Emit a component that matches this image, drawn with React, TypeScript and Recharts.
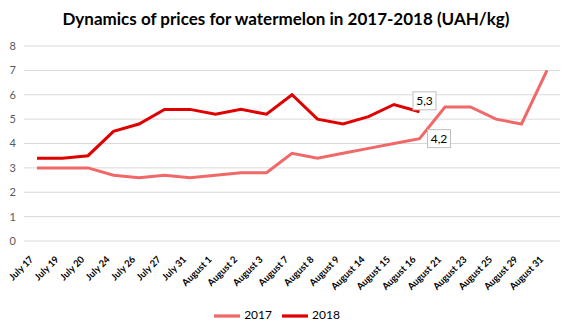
import React from "react";
import { LineChart, Line, XAxis, YAxis, CartesianGrid, Legend, LabelList } from "recharts";

const dates = [
  "July 17", "July 19", "July 20", "July 24", "July 26", "July 27", "July 31",
  "August 1", "August 2", "August 3", "August 7", "August 8", "August 9",
  "August 14", "August 15", "August 16", "August 21", "August 23", "August 25",
  "August 29", "August 31",
];

const prices2017 = [3, 3, 3, 2.7, 2.6, 2.7, 2.6, 2.7, 2.8, 2.8, 3.6, 3.4, 3.6, 3.8, 4.0, 4.2, 5.5, 5.5, 5.0, 4.8, 7.0];
const prices2018 = [3.4, 3.4, 3.5, 4.5, 4.8, 5.4, 5.4, 5.2, 5.4, 5.2, 6.0, 5.0, 4.8, 5.1, 5.6, 5.3];

const yTicks = [0, 1, 2, 3, 4, 5, 6, 7, 8];

const data = dates.map((d, i) => ({
  date: d,
  y2017: prices2017[i],
  y2018: i < prices2018.length ? prices2018[i] : null,
}));

const FONT = "Lato, 'Liberation Sans', sans-serif";

function boxLabel(idx: number, dx: number, dy: number) {
  return (props: any) => {
    const { x, y, value, index } = props;
    if (index !== idx || value == null) return null;
    const txt = String(value).replace(".", ",");
    const w = 23;
    const h = 18;
    const cx = x + dx;
    const cy = y + dy;
    return (
      <g>
        <rect x={cx - w / 2} y={cy - h / 2} width={w} height={h} fill="#fff" stroke="#bfbfbf" />
        <text x={cx} y={cy + 4} textAnchor="middle" fontSize={12} fontFamily={FONT} fill="#000">
          {txt}
        </text>
      </g>
    );
  };
}

const DateTick = (props: any) => {
  const { x, y, payload } = props;
  const ax = x - 3;
  const ay = y + 11;
  return (
    <text
      x={ax}
      y={ay}
      transform={`rotate(-45, ${ax}, ${ay})`}
      textAnchor="end"
      fontSize={9.5}
      fontWeight="bold"
      fontFamily={FONT}
      fill="#000"
    >
      {payload.value}
    </text>
  );
};

export default function App() {
  return (
    <div style={{ position: "absolute", left: 0, top: 0, width: 572, height: 332, background: "#fff" }}>
      <div
        style={{
          position: "absolute",
          top: 8,
          width: 572,
          textAlign: "center",
          fontFamily: FONT,
          fontWeight: "bold",
          fontSize: 17,
          color: "#000",
        }}
      >
        Dynamics of prices for watermelon in 2017-2018 (UAH/kg)
      </div>
      <LineChart width={572} height={332} data={data} margin={{ top: 46, right: 12, left: 4, bottom: 5 }}>
        <CartesianGrid vertical={false} stroke="#d9d9d9" />
        <XAxis
          dataKey="date"
          interval={0}
          axisLine={false}
          tickLine={false}
          height={62}
          padding={{ left: 13, right: 13 }}
          tick={<DateTick />}
        />
        <YAxis
          domain={[0, 8]}
          ticks={yTicks}
          width={20}
          axisLine={false}
          tickLine={false}
          tick={{ fontSize: 11, fill: "#595959", fontFamily: FONT }}
        />
        <Legend
          verticalAlign="bottom"
          height={24}
          iconType="plainline"
          iconSize={26}
          wrapperStyle={{ fontSize: 12, fontFamily: FONT, color: "#000" }}
          formatter={(v) => <span style={{ color: "#000" }}>{v}</span>}
        />
        <Line
          name="2017"
          dataKey="y2017"
          stroke="#f06868"
          strokeWidth={3}
          dot={false}
          isAnimationActive={false}
        >
          <LabelList dataKey="y2017" content={boxLabel(15, 19.5, 0)} />
        </Line>
        <Line
          name="2018"
          dataKey="y2018"
          stroke="#e00000"
          strokeWidth={3}
          dot={false}
          isAnimationActive={false}
        >
          <LabelList dataKey="y2018" content={boxLabel(15, 5, -11)} />
        </Line>
      </LineChart>
    </div>
  );
}
